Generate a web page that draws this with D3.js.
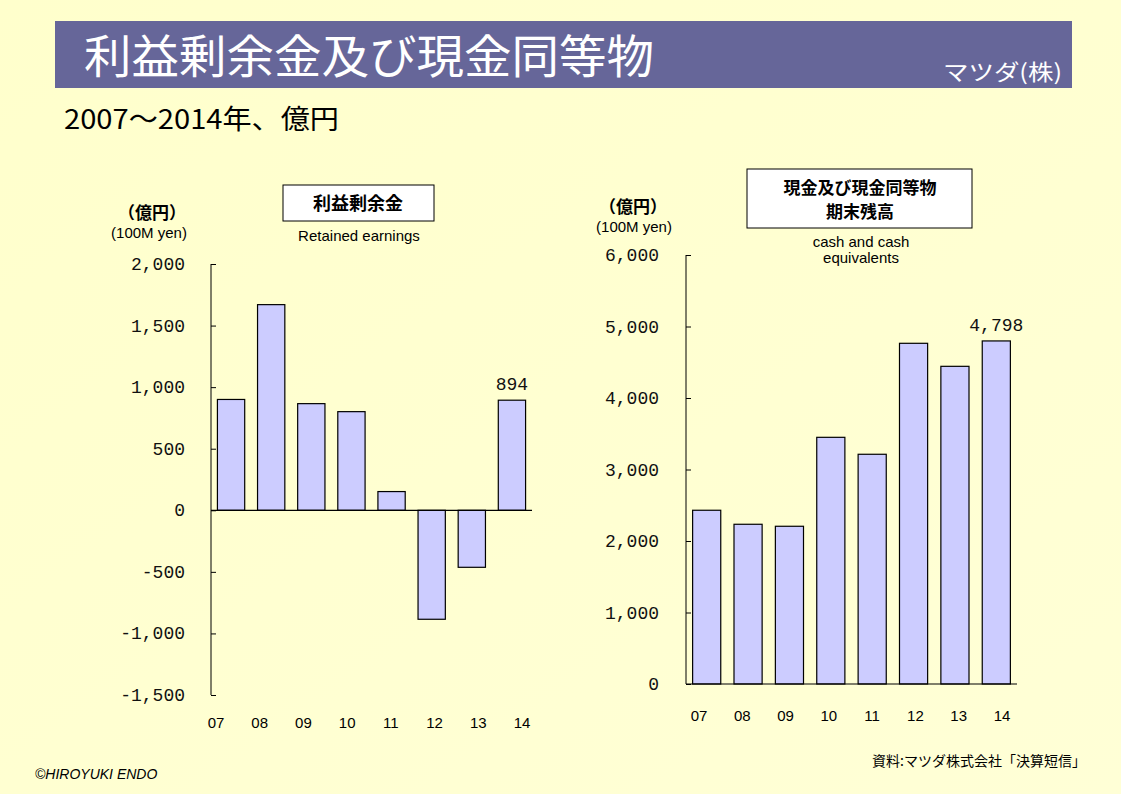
<!DOCTYPE html>
<html><head><meta charset="utf-8">
<script src="https://cdn.jsdelivr.net/npm/d3@7"></script>
<style>
body{margin:0;padding:0;}
svg{display:block;}
</style></head>
<body>
<script>
const years = ["07","08","09","10","11","12","13","14"];
const retainedEarnings = [900, 1670, 866, 801, 152, -885, -463, 894];
const cashEquivalents = [2430, 2234, 2206, 3450, 3213, 4765, 4443, 4798];
const leftTicks = [2000, 1500, 1000, 500, 0, -500, -1000, -1500];
const rightTicks = [0, 1000, 2000, 3000, 4000, 5000, 6000];

const W = 1121, H = 794;
const JP = "'Noto Sans CJK JP',sans-serif";
const LAT = "'Liberation Sans',Arial,sans-serif";
const numFont = "'Liberation Mono','DejaVu Sans Mono',monospace";

const svg = d3.select("body").append("svg").attr("width", W).attr("height", H)
  .attr("font-family", JP);

const defs = svg.append("defs");
const grad = defs.append("linearGradient").attr("id","bg").attr("x1","0").attr("y1","0").attr("x2","1").attr("y2","1");
grad.append("stop").attr("offset","0").attr("stop-color","#FFFFCC");
grad.append("stop").attr("offset","1").attr("stop-color","#FFFFD6");
svg.append("rect").attr("width",W).attr("height",H).attr("fill","url(#bg)");

// title bar
svg.append("rect").attr("x",55).attr("y",21).attr("width",1017).attr("height",67).attr("fill","#666699");
svg.append("text").attr("x",84).attr("y",73).attr("fill","#fff").attr("font-size",46).attr("font-weight",400)
  .attr("textLength",570).attr("lengthAdjust","spacingAndGlyphs")
  .text("利益剰余金及び現金同等物");
svg.append("text").attr("x",1062).attr("y",80).attr("fill","#fff").attr("font-size",22).attr("text-anchor","end")
  .attr("textLength",119).attr("lengthAdjust","spacingAndGlyphs")
  .text("マツダ(株)");
svg.append("text").attr("x",64).attr("y",129).attr("fill","#000").attr("font-size",27)
  .attr("textLength",275).attr("lengthAdjust","spacingAndGlyphs")
  .text("2007～2014年、億円");

const fmt = d3.format(",");

function drawChart(opt){
  const g = svg.append("g");
  const x = d3.scaleBand().domain(years).range([opt.x0, opt.x1]).paddingInner(0.32).paddingOuter(0.16);
  const xl = d3.scalePoint().domain(years).range(opt.labelRange);
  const y = d3.scaleLinear().domain(opt.domain).range([opt.yBottom, opt.yTop]);

  const ax = g.append("g").attr("transform",`translate(${opt.x0},0)`)
    .call(d3.axisRight(y).tickValues(opt.ticks).tickSize(5).tickFormat(""));
  ax.select(".domain").attr("d",`M0,${y(opt.domain[0])}V${y(opt.domain[1])}`).attr("stroke","#000");
  ax.selectAll(".tick line").attr("stroke","#000");

  g.selectAll("text.tl").data(opt.ticks).join("text").attr("class","tl")
    .attr("x",opt.tickLabelX).attr("y",d=>y(d)+6).attr("text-anchor","end")
    .attr("font-size",18).attr("font-family",numFont).attr("fill","#111")
    .text(d=>fmt(d).replace("−","-"));

  g.selectAll("rect.bar").data(opt.values).join("rect").attr("class","bar")
    .attr("x",(d,i)=>x(years[i])).attr("width",x.bandwidth())
    .attr("y",d=>y(Math.max(0,d))).attr("height",d=>Math.abs(y(d)-y(0)))
    .attr("fill","#CCCCFF").attr("stroke","#000").attr("stroke-width",1.2);

  g.append("line").attr("x1",opt.x0).attr("x2",opt.x1).attr("y1",y(0)).attr("y2",y(0)).attr("stroke","#000").attr("stroke-width",1.2);

  g.selectAll("text.xl").data(years).join("text").attr("class","xl")
    .attr("x",d=>xl(d)).attr("y",opt.labelY).attr("text-anchor","middle")
    .attr("font-size",15).attr("font-family",LAT).text(d=>d);

  const last = opt.values.length-1;
  g.append("text").attr("x",x(years[last])+x.bandwidth()/2).attr("y",y(opt.values[last])-10)
    .attr("text-anchor","middle").attr("font-size",18).attr("font-family",numFont).attr("fill","#111")
    .text(fmt(opt.values[last]));
}

drawChart({values:retainedEarnings, ticks:leftTicks, domain:[-1500,2000], yBottom:695, yTop:264,
  x0:211, x1:532, tickLabelX:185, labelRange:[216,522], labelY:728});
drawChart({values:cashEquivalents, ticks:rightTicks, domain:[0,6000], yBottom:684, yTop:255,
  x0:686, x1:1017, tickLabelX:659, labelRange:[699,1002], labelY:721});

// headers left
svg.append("rect").attr("x",283).attr("y",185).attr("width",151).attr("height",36).attr("fill","#fff").attr("stroke","#000");
svg.append("text").attr("x",358).attr("y",210).attr("text-anchor","middle").attr("font-size",18).attr("font-weight",700).text("利益剰余金");
svg.append("text").attr("x",359).attr("y",241).attr("text-anchor","middle").attr("font-size",15).attr("font-family",LAT).text("Retained earnings");
svg.append("text").attr("x",152).attr("y",219).attr("text-anchor","middle").attr("font-size",17).attr("font-weight",700).text("（億円）");
svg.append("text").attr("x",149).attr("y",238).attr("text-anchor","middle").attr("font-size",15).attr("font-family",LAT).text("(100M yen)");

// headers right
svg.append("rect").attr("x",747).attr("y",169).attr("width",225).attr("height",59).attr("fill","#fff").attr("stroke","#000");
svg.append("text").attr("x",860).attr("y",194).attr("text-anchor","middle").attr("font-size",17).attr("font-weight",700).text("現金及び現金同等物");
svg.append("text").attr("x",860).attr("y",218).attr("text-anchor","middle").attr("font-size",17).attr("font-weight",700).text("期末残高");
svg.append("text").attr("x",861).attr("y",247).attr("text-anchor","middle").attr("font-size",15).attr("font-family",LAT).text("cash and cash");
svg.append("text").attr("x",861).attr("y",263).attr("text-anchor","middle").attr("font-size",15).attr("font-family",LAT).text("equivalents");
svg.append("text").attr("x",633).attr("y",213).attr("text-anchor","middle").attr("font-size",17).attr("font-weight",700).text("（億円）");
svg.append("text").attr("x",634).attr("y",232).attr("text-anchor","middle").attr("font-size",15).attr("font-family",LAT).text("(100M yen)");

// footer
svg.append("text").attr("x",35).attr("y",779).attr("font-size",14).attr("font-style","italic").attr("font-family",LAT).text("©HIROYUKI ENDO");
svg.append("text").attr("x",1086).attr("y",766).attr("text-anchor","end").attr("font-size",14).text("資料:マツダ株式会社「決算短信」");
</script>
</body></html>
